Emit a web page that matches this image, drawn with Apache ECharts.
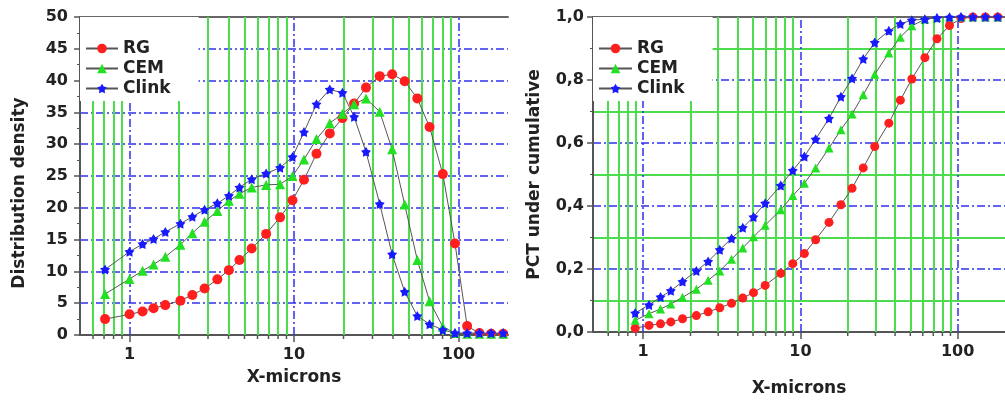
<!DOCTYPE html>
<html>
<head>
<meta charset="UTF-8">
<title>Distribution density / cumulative</title>
<script src="https://cdn.jsdelivr.net/npm/echarts@6/dist/echarts.min.js"></script>
</head>
<body style="margin:0;background:#fff">
<div id="main" style="width:1005px;height:402px;"></div>
<script>
// left chart: distribution density
var xDens = [0.71, 1.0, 1.2, 1.4, 1.65, 2.04, 2.41, 2.86, 3.42, 4.02, 4.66, 5.53, 6.77, 8.23, 9.79, 11.5,
  13.7, 16.5, 19.7, 23.2, 27.4, 33.2, 39.5, 47.1, 56.2, 66.7, 80.3, 95.2, 112.9, 134, 158, 187];
var densRG = [2.5, 3.25, 3.7, 4.2, 4.7, 5.4, 6.3, 7.3, 8.75, 10.2, 11.8, 13.6, 15.9, 18.5, 21.2, 24.4,
  28.5, 31.7, 34.1, 36.4, 38.9, 40.7, 41.0, 39.9, 37.2, 32.7, 25.3, 14.4, 1.4, 0.3, 0.2, 0.2];
var densCEM = [6.45, 8.8, 10.1, 11.1, 12.3, 14.2, 16.0, 17.8, 19.5, 21.1, 22.2, 23.2, 23.6, 23.7, 25.0, 27.6,
  30.8, 33.3, 34.8, 36.3, 37.2, 35.1, 29.2, 20.5, 11.8, 5.3, 1.3, 0.3, 0.2, 0.2, 0.2, 0.2];
var densClink = [10.3, 13.1, 14.3, 15.1, 16.2, 17.5, 18.6, 19.7, 20.7, 21.9, 23.2, 24.5, 25.4, 26.3, 28.0, 31.9,
  36.3, 38.6, 38.1, 34.3, 28.8, 20.6, 12.7, 6.8, 3.0, 1.7, 0.8, 0.3, 0.3, 0.3, 0.3, 0.3];

// right chart: cumulative
var xCum = [0.89, 1.09, 1.29, 1.50, 1.78, 2.18, 2.59, 3.07, 3.65, 4.30, 5.03, 5.97, 7.50, 8.94, 10.6, 12.5,
  15.2, 18.1, 21.3, 25.1, 29.7, 36.5, 43.2, 51.1, 61.9, 73.9, 88.7, 105, 125, 150, 180];
var cumRG = [0.012, 0.021, 0.026, 0.032, 0.042, 0.052, 0.064, 0.077, 0.091, 0.108, 0.125, 0.148, 0.186, 0.217, 0.249, 0.293,
  0.348, 0.404, 0.456, 0.521, 0.589, 0.663, 0.736, 0.803, 0.871, 0.931, 0.973, 0.995, 1, 1, 1];
var cumCEM = [0.037, 0.058, 0.073, 0.089, 0.110, 0.136, 0.164, 0.194, 0.231, 0.267, 0.302, 0.339, 0.388, 0.433, 0.472, 0.521,
  0.584, 0.642, 0.692, 0.753, 0.818, 0.886, 0.936, 0.972, 0.993, 0.998, 1, 1, 1, 1, 1];
var cumClink = [0.06, 0.086, 0.111, 0.131, 0.160, 0.194, 0.224, 0.261, 0.297, 0.331, 0.365, 0.409, 0.465, 0.513, 0.557, 0.612,
  0.678, 0.747, 0.805, 0.867, 0.919, 0.956, 0.978, 0.990, 0.993, 0.997, 0.999, 1, 1, 1, 1];

var minorX = [0.6, 0.7, 0.8, 0.9, 2, 3, 4, 5, 6, 7, 8, 9, 20, 30, 40, 50, 60, 70, 80, 90];
var majorX = [1, 10, 100];

var FONT = 'DejaVu Sans';
var GREEN = '#4ddc4d';
var BLUE = '#2f2ff0';
var AXIS = '#555';
var STAR = 'path://M50,0 L66.5,27.3 L97.6,34.5 L76.6,58.7 L79.4,90.5 L50,78 L20.6,90.5 L23.4,58.7 L2.4,34.5 L33.5,27.3 Z';

function pairs(xs, ys) {
  return xs.map(function (x, i) { return [x, ys[i]]; });
}

function curve(name, xs, ys, g, symbol, color, size) {
  return {
    name: name, type: 'line', xAxisIndex: g, yAxisIndex: g,
    data: pairs(xs, ys),
    symbol: symbol, symbolSize: size,
    itemStyle: { color: color },
    lineStyle: { color: '#555', width: 1 },
    z: 3
  };
}

function gridLines(g) {
  var d = minorX.map(function (v) {
    return { xAxis: v, lineStyle: { color: GREEN, type: 'solid', width: 2 } };
  }).concat(majorX.map(function (v) {
    return { xAxis: v, lineStyle: { color: BLUE, type: [8, 3, 2, 3], width: 1.5 } };
  }));
  return {
    type: 'line', xAxisIndex: g, yAxisIndex: g, data: [], silent: true,
    markLine: { z: 1, silent: true, symbol: 'none', label: { show: false }, animation: false, data: d }
  };
}

function logAxis(g, min, max, gap) {
  return {
    type: 'log', logBase: 10, gridIndex: g, min: min, max: max,
    name: 'X-microns', nameLocation: 'middle', nameGap: gap,
    nameTextStyle: { fontFamily: FONT, fontWeight: 'bold', fontSize: 17, color: '#222' },
    axisLine: { lineStyle: { color: AXIS, width: 2 } },
    axisTick: { length: 7, lineStyle: { color: AXIS, width: 1.5 } },
    axisLabel: { showMinLabel: false, showMaxLabel: false, margin: 12,
      fontFamily: FONT, fontWeight: 'bold', fontSize: 16, color: '#222' },
    splitLine: { show: false }
  };
}

function topAxis(g) {
  return {
    type: 'value', gridIndex: g, position: 'top', min: 0, max: 1,
    axisLine: { lineStyle: { color: '#666', width: 2 } },
    axisTick: { show: false }, axisLabel: { show: false }, splitLine: { show: false }
  };
}

function legend(left, iw) {
  return {
    data: ['RG', 'CEM', 'Clink'], orient: 'vertical', left: left, top: 17,
    padding: [23, 28, 4, 5], backgroundColor: '#fff',
    itemWidth: iw, itemHeight: 12, itemGap: 3,
    textStyle: { fontFamily: FONT, fontWeight: 'bold', fontSize: 17, color: '#222' }
  };
}

var option = {
  animation: false,
  grid: [
    { left: 80, top: 17, width: 428, height: 318 },
    { left: 593, top: 17, width: 418, height: 318 }
  ],
  legend: [legend(80, 32), legend(593, 33)],
  xAxis: [logAxis(0, 0.5, 200, 34), logAxis(1, 0.48, 200, 48), topAxis(0), topAxis(1)],
  yAxis: [
    {
      type: 'value', gridIndex: 0, min: 0, max: 50, interval: 5,
      name: 'Distribution density', nameLocation: 'middle', nameGap: 52,
      nameTextStyle: { fontFamily: FONT, fontWeight: 'bold', fontSize: 17, color: '#222', padding: [0, 34, 0, 0] },
      axisLine: { show: true, lineStyle: { color: AXIS, width: 2 } },
      axisTick: { show: true, length: 6, lineStyle: { color: AXIS, width: 1.5 } },
      minorTick: { show: true, splitNumber: 2, length: 3, lineStyle: { color: AXIS } },
      axisLabel: { margin: 12, fontFamily: FONT, fontWeight: 'bold', fontSize: 16, color: '#222' },
      splitLine: { show: true, lineStyle: { color: BLUE, type: [8, 3, 2, 3], width: 1.5 } }
    },
    {
      type: 'value', gridIndex: 1, min: 0, max: 1, interval: 0.2,
      name: 'PCT under cumulative', nameLocation: 'middle', nameGap: 50,
      nameTextStyle: { fontFamily: FONT, fontWeight: 'bold', fontSize: 17, color: '#222' },
      axisLine: { show: true, lineStyle: { color: AXIS, width: 2 } },
      axisTick: { show: true, length: 6, lineStyle: { color: AXIS, width: 1.5 } },
      minorTick: { show: true, splitNumber: 2, length: 3, lineStyle: { color: AXIS } },
      axisLabel: { margin: 9, fontFamily: FONT, fontWeight: 'bold', fontSize: 16, color: '#222',
        formatter: function (v) { return v.toFixed(1).replace('.', ','); } },
      splitLine: { show: true, lineStyle: { color: BLUE, type: [8, 3, 2, 3], width: 1.5 } },
      minorSplitLine: { show: true, lineStyle: { color: GREEN, width: 2 } }
    }
  ],
  series: [
    gridLines(0), gridLines(1),
    curve('RG', xDens, densRG, 0, 'circle', '#ff1f1f', 10),
    curve('CEM', xDens, densCEM, 0, 'triangle', '#22e022', 10),
    curve('Clink', xDens, densClink, 0, STAR, '#1a1aff', 10),
    curve('RG', xCum, cumRG, 1, 'circle', '#ff1f1f', 9),
    curve('CEM', xCum, cumCEM, 1, 'triangle', '#22e022', 9),
    curve('Clink', xCum, cumClink, 1, STAR, '#1a1aff', 10)
  ]
};

var myChart = echarts.init(document.getElementById('main'));
myChart.setOption(option);

// minor ticks of the log axes, placed through the axis scale
var ticks = [];
[0, 1].forEach(function (g) {
  minorX.forEach(function (v) {
    var p = myChart.convertToPixel({ gridIndex: g }, [v, 0]);
    ticks.push({
      type: 'line', z: 10, silent: true,
      shape: { x1: p[0], y1: p[1], x2: p[0], y2: p[1] + 4 },
      style: { stroke: AXIS, lineWidth: 1.5 }
    });
  });
});
myChart.setOption({ graphic: ticks });
</script>
</body>
</html>
